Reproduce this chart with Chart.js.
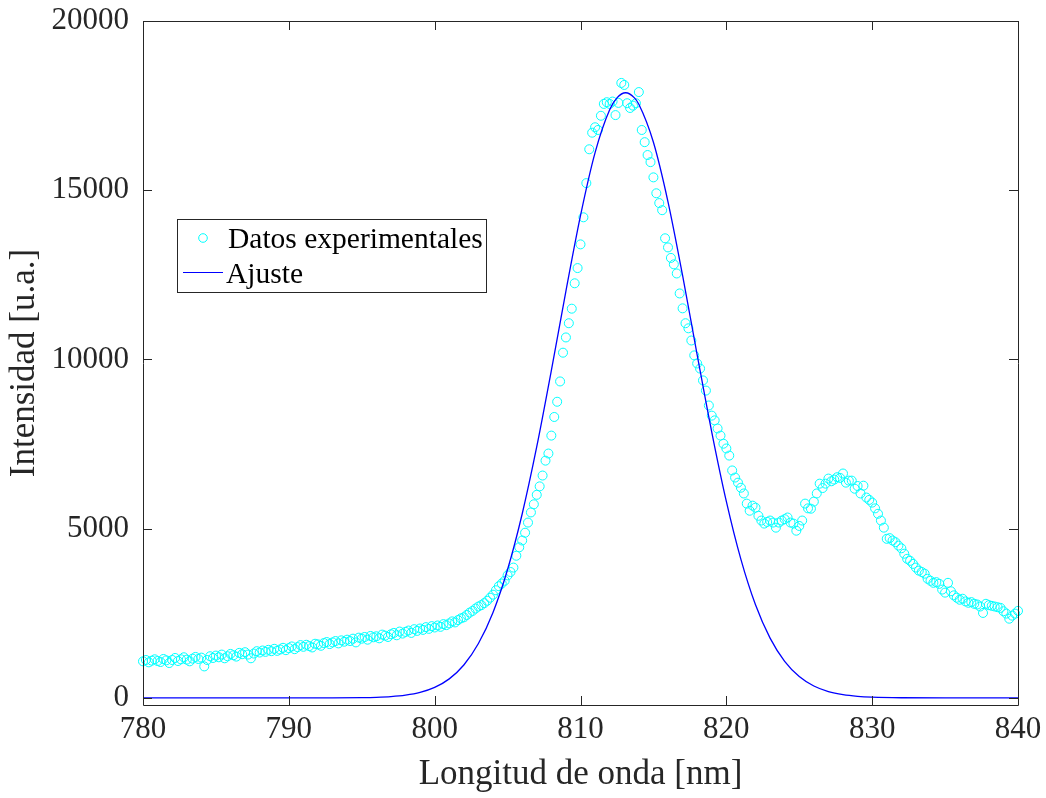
<!DOCTYPE html>
<html>
<head>
<meta charset="utf-8">
<title>Intensidad vs longitud de onda</title>
<script src="https://cdn.jsdelivr.net/npm/chart.js@4.4.1/dist/chart.umd.min.js"></script>
<style>
  html, body { margin: 0; padding: 0; background: #fff; }
  canvas { display: block; }
</style>
</head>
<body>
<canvas id="myChart" width="1046" height="798"></canvas>
<script>
// espectro medido: primera longitud de onda y paso (nm)
const wavelengthStart = 780;
const wavelengthStep = 0.2;

// intensidad medida, un valor por paso de 780.0 a 840.0 nm
const intensity = [
  1080, 1120, 1050, 1100, 1140,
  1090, 1060, 1150, 1110, 1030,
  1120, 1180, 1090, 1140, 1200,
  1130, 1080, 1160, 1210, 1150,
  1190, 930, 1120, 1230, 1180,
  1250, 1200, 1280, 1170, 1230,
  1300, 1260, 1220, 1330, 1290,
  1350, 1280, 1170, 1310, 1380,
  1340, 1400, 1360, 1420, 1380,
  1450, 1390, 1430, 1480, 1410,
  1470, 1520, 1440, 1500, 1560,
  1510, 1570, 1530, 1490, 1600,
  1580, 1540, 1620, 1650, 1590,
  1640, 1680, 1610, 1700, 1660,
  1720, 1680, 1750, 1640, 1780,
  1750, 1800, 1720, 1830, 1790,
  1820, 1760, 1870, 1840, 1800,
  1880, 1920, 1850, 1960, 1900,
  1950, 1990, 1920, 2030, 1980,
  2050, 2010, 2090, 2040, 2120,
  2080, 2140, 2100, 2180, 2150,
  2200, 2260, 2230, 2300, 2350,
  2380, 2450, 2520, 2570, 2640,
  2700, 2740, 2800, 2870, 2960,
  3050, 3180, 3300, 3380, 3460,
  3620, 3720, 3850, 4200, 4450,
  4650, 4880, 5180, 5480, 5720,
  6000, 6250, 6570, 7010, 7220,
  7750, 8300, 8750, 9350, 10200,
  10650, 11070, 11500, 12250, 12700,
  13400, 14200, 15210, 16210, 16700,
  16860, 16780, 17200, 17550, 17600,
  17550, 17620, 17220, 17580, 18170,
  18110, 17570, 17430, 17500, 17570,
  17900, 16780, 16420, 16040, 15830,
  15380, 14910, 14620, 14410, 13580,
  13310, 13000, 12810, 12540, 11950,
  11510, 11070, 10920, 10560, 10120,
  9880, 9730, 9380, 9080, 8640,
  8340, 8200, 7960, 7750, 7510,
  7370, 7160, 6720, 6510, 6360,
  6210, 6040, 5740, 5530, 5680,
  5620, 5380, 5240, 5150, 5200,
  5240, 5180, 5030, 5180, 5240,
  5280, 5330, 5180, 5150, 4940,
  5080, 5240, 5740, 5600, 5590,
  5800, 6040, 6330, 6200, 6330,
  6480, 6400, 6450, 6520, 6500,
  6630, 6360, 6420, 6420, 6180,
  6260, 6040, 6270, 5920, 5850,
  5770, 5600, 5440, 5240, 5030,
  4700, 4720, 4650, 4600, 4500,
  4420, 4260, 4110, 4050, 3960,
  3850, 3760, 3720, 3670, 3520,
  3460, 3400, 3420, 3370, 3200,
  3110, 3400, 3150, 3030, 2960,
  2900, 2930, 2850, 2810, 2830,
  2780, 2760, 2700, 2510, 2780,
  2740, 2720, 2700, 2680, 2660,
  2560, 2490, 2340, 2430, 2490,
  2570
];

const fitWavelength = [780, 785, 790, 793, 795, 796, 797, 798, 799, 800, 801, 802, 803, 804, 805, 806, 807, 808, 809, 810,
  811, 812, 812.5, 813.1, 813.7, 814, 815, 816, 817, 818, 819, 820, 821, 822, 823, 824, 825, 826, 827, 828, 829, 830, 832, 835, 840];
const fitIntensity = [0, 0, 0, 1, 8, 18, 39, 82, 163, 310, 562, 973, 1606, 2526, 3794, 5434, 7421, 9671, 12019, 14249,
  16111, 17376, 17728, 17880, 17728, 17541, 16418, 14658, 12481, 10138, 7855, 5806, 4093, 2752, 1765, 1080, 630, 350, 186, 94, 45, 21, 4, 0, 0];

const xTicks = [780, 790, 800, 810, 820, 830, 840];
const yTicks = [0, 5000, 10000, 15000, 20000];
const seriesLabels = ["Datos experimentales", "Ajuste"];
const xTitle = "Longitud de onda [nm]";
const yTitle = "Intensidad [u.a.]";

const axisColor = "#262626";
const serif = "'Liberation Serif', 'Times New Roman', serif";
const dataColor = "rgb(0, 255, 255)";
const fitColor = "rgb(0, 0, 255)";

const measured = intensity.map((v, i) => ({
  x: Math.round((wavelengthStart + i * wavelengthStep) * 10) / 10,
  y: v
}));
const fitted = fitWavelength.map((w, i) => ({ x: w, y: fitIntensity[i] }));

// caja con marcas hacia dentro y leyenda como en matlab
const boxPlugin = {
  id: "boxPlugin",
  afterDatasetsDraw(chart) {
    const { ctx, chartArea: a, scales } = chart;
    const tick = 9;
    ctx.save();
    ctx.strokeStyle = axisColor;
    ctx.lineWidth = 1;
    ctx.beginPath();
    ctx.rect(a.left + 0.5, a.top + 0.5, a.right - a.left, a.bottom - a.top);
    scales.x.ticks.forEach(t => {
      const px = Math.round(scales.x.getPixelForValue(t.value)) + 0.5;
      ctx.moveTo(px, a.bottom); ctx.lineTo(px, a.bottom - tick);
      ctx.moveTo(px, a.top); ctx.lineTo(px, a.top + tick);
    });
    scales.y.ticks.forEach(t => {
      const py = Math.round(scales.y.getPixelForValue(t.value)) + 0.5;
      ctx.moveTo(a.left, py); ctx.lineTo(a.left + tick, py);
      ctx.moveTo(a.right, py); ctx.lineTo(a.right - tick, py);
    });
    ctx.stroke();

    // leyenda
    ctx.fillStyle = "#fff";
    ctx.fillRect(177, 219, 309, 73);
    ctx.strokeRect(177.5, 219.5, 309, 73);
    ctx.strokeStyle = dataColor;
    ctx.beginPath();
    ctx.arc(203, 238, 4.3, 0, Math.PI * 2);
    ctx.stroke();
    ctx.strokeStyle = fitColor;
    ctx.beginPath();
    ctx.moveTo(183, 272.5);
    ctx.lineTo(223, 272.5);
    ctx.stroke();
    ctx.fillStyle = "#000";
    ctx.font = "29.5px " + serif;
    ctx.textBaseline = "alphabetic";
    ctx.fillText(seriesLabels[0], 228, 248);
    ctx.fillText(seriesLabels[1], 226, 283);
    ctx.restore();
  }
};

const ctx = document.getElementById("myChart").getContext("2d");
const myChart = new Chart(ctx, {
  type: "scatter",
  data: {
    datasets: [
      {
        label: seriesLabels[0],
        data: measured,
        pointStyle: "circle",
        pointRadius: 4.5,
        pointBorderWidth: 1,
        pointBorderColor: dataColor,
        pointBackgroundColor: "rgba(0,0,0,0)",
        showLine: false,
        clip: false,
        order: 1
      },
      {
        label: seriesLabels[1],
        data: fitted,
        showLine: true,
        borderColor: fitColor,
        borderWidth: 1.3,
        pointRadius: 0,
        cubicInterpolationMode: "monotone",
        order: 0
      }
    ]
  },
  options: {
    responsive: false,
    devicePixelRatio: 1,
    animation: false,
    layout: { padding: { top: 21, right: 28, left: 0, bottom: 0 } },
    plugins: {
      legend: { display: false },
      tooltip: { enabled: false }
    },
    scales: {
      x: {
        type: "linear",
        min: 780,
        max: 840,
        grid: { display: false, drawTicks: false },
        border: { display: false },
        ticks: {
          padding: 6,
          color: axisColor,
          font: { family: serif, size: 31 },
          maxRotation: 0,
          autoSkip: false,
          callback: v => String(v)
        },
        title: {
          display: true,
          text: xTitle,
          color: axisColor,
          font: { family: serif, size: 35 },
          padding: { top: 0, bottom: 2 }
        },
        afterBuildTicks(scale) { scale.ticks = xTicks.map(v => ({ value: v })); },
        afterFit(scale) {
          scale.height = 93;
          scale.paddingLeft = 0;
          scale.paddingRight = 0;
        }
      },
      y: {
        type: "linear",
        min: -210,
        max: 20000,
        grid: { display: false, drawTicks: false },
        border: { display: false },
        ticks: {
          padding: 14,
          color: axisColor,
          font: { family: serif, size: 31 },
          callback: v => String(v)
        },
        title: {
          display: true,
          text: yTitle,
          color: axisColor,
          font: { family: serif, size: 35 },
          padding: { top: 4, bottom: 0 }
        },
        afterBuildTicks(scale) { scale.ticks = yTicks.map(v => ({ value: v })); },
        afterFit(scale) {
          scale.width = 143;
          scale.paddingTop = 0;
          scale.paddingBottom = 0;
        }
      }
    }
  },
  plugins: [boxPlugin]
});
</script>
</body>
</html>
